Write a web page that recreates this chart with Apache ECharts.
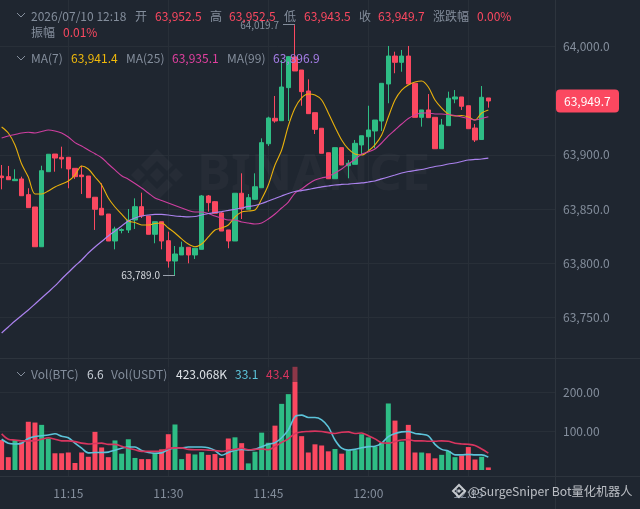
<!DOCTYPE html>
<html><head><meta charset="utf-8">
<style>html,body{margin:0;padding:0;background:#1f2630}#c{width:640px;height:509px}</style>
<script src="https://cdn.jsdelivr.net/npm/echarts@6/dist/echarts.min.js"></script>
</head><body><div id="c"></div>
<script>
const opens=[63880.4,63879.8,63876.1,63877.7,63863.2,63851.8,63815.1,63884.4,63900.7,63897.7,63897.7,63887.5,63881.3,63880.4,63860.8,63850.6,63845.3,63820.4,63830.1,63830.6,63839.8,63852.1,63843.5,63826.6,63838.2,63820.7,63801.9,63807.5,63814.6,63807.5,63812.7,63862.0,63856.7,63846.3,63830.6,63820.4,63864.5,63849.7,63858.9,63869.6,63910.2,63933.7,63931.5,63962.0,63990.3,63978.3,63958.9,63938.9,63924.5,63901.9,63877.9,63906.6,63889.9,63891.2,63909.1,63916.7,63922.0,63931.2,63965.4,63991.2,63985.4,63991.2,63966.0,63934.6,63941.4,63934.6,63905.6,63926.9,63951.5,63953.4,63945.3,63924.7,63914.1,63952.5];
const closes=[63878.9,63877.0,63877.4,63862.2,63851.2,63815.1,63885.3,63900.5,63897.0,63896.1,63886.9,63879.8,63879.8,63860.4,63849.7,63844.4,63820.4,63831.5,63831.0,63839.5,63852.1,63843.5,63826.6,63838.2,63820.4,63801.9,63808.4,63814.6,63807.5,63813.7,63862.0,63855.8,63846.0,63829.6,63820.4,63864.5,63849.9,63860.4,63870.5,63911.2,63934.0,63931.2,63962.6,63990.6,63977.4,63958.3,63938.0,63923.5,63901.4,63877.9,63906.6,63890.6,63892.2,63910.6,63917.6,63922.9,63932.1,63966.0,63991.2,63985.4,63991.2,63965.4,63934.6,63941.4,63934.3,63905.6,63927.5,63952.2,63953.4,63944.8,63924.1,63913.7,63953.1,63949.7];
const lows=[63868.1,63876.7,63876.1,63862.0,63851.2,63815.1,63815.1,63884.4,63884.4,63887.5,63869.1,63877.7,63863.8,63860.4,63830.6,63844.4,63820.4,63812.7,63827.5,63827.8,63831.5,63841.6,63826.6,63818.3,63812.7,63795.8,63789.0,63807.5,63799.8,63803.8,63812.7,63847.5,63846.0,63829.6,63813.7,63820.4,63840.7,63849.7,63858.3,63869.6,63908.1,63929.6,63931.5,63931.2,63977.4,63945.3,63938.0,63919.2,63901.4,63877.9,63877.9,63890.6,63878.3,63891.2,63899.8,63904.4,63906.0,63922.0,63947.6,63975.3,63976.7,63965.4,63934.6,63926.0,63934.3,63905.6,63905.6,63926.9,63947.6,63941.4,63924.1,63911.8,63913.7,63943.5];
const highs=[63890.6,63889.7,63886.6,63879.8,63869.1,63851.8,63889.9,63900.5,63900.7,63907.5,63897.7,63887.5,63889.9,63880.4,63860.8,63873.7,63845.3,63833.6,63832.1,63849.9,63859.8,63865.0,63843.5,63838.2,63838.2,63829.0,63815.8,63819.8,63814.6,63813.7,63862.9,63862.9,63857.3,63847.2,63830.6,63864.5,63882.9,63863.8,63882.9,63915.2,63935.2,63954.3,63987.5,63991.2,64019.7,63978.3,63969.7,63938.9,63924.5,63901.9,63906.6,63906.6,63895.2,63913.7,63917.6,63945.3,63932.1,63966.0,64000.5,63995.2,63996.8,64000.5,63966.0,63941.4,63956.1,63934.6,63933.1,63958.3,63959.8,63953.4,63945.3,63928.4,63963.5,63952.5];
const ma7=[63925.7,63920.1,63909.1,63891.5,63879.5,63863.8,63863.8,63866.6,63870.3,63873.0,63875.8,63881.3,63889.7,63886.9,63879.5,63872.1,63860.1,63851.8,63845.3,63838.9,63837.5,63835.2,63835.2,63836.6,63837.0,63832.4,63827.8,63822.3,63817.6,63815.1,63817.6,63824.1,63830.6,63832.4,63835.2,63842.6,63847.2,63848.1,63849.0,63859.2,63872.1,63890.6,63904.4,63926.6,63943.2,63952.5,63956.1,63955.2,63950.6,63938.6,63925.7,63913.7,63905.4,63900.7,63899.8,63903.5,63909.1,63918.3,63934.9,63950.6,63959.8,63964.5,63967.2,63968.1,63962.6,63950.6,63943.2,63937.7,63935.8,63936.3,63934.9,63932.1,63938.6,63941.4];
const ma25=[63915.5,63917.4,63918.7,63920.1,63920.8,63920.1,63921.5,63922.9,63922.0,63920.1,63916.4,63911.2,63908.1,63904.4,63901.0,63897.3,63891.5,63886.0,63880.7,63877.4,63873.5,63869.3,63864.7,63860.1,63857.8,63855.5,63853.2,63850.9,63848.6,63847.2,63847.2,63845.8,63843.5,63841.6,63839.8,63839.8,63837.9,63837.0,63836.1,63837.0,63840.7,63845.3,63850.9,63856.4,63864.7,63868.4,63873.0,63876.7,63878.6,63880.0,63883.2,63886.9,63891.5,63895.7,63900.7,63902.6,63905.4,63910.9,63917.4,63922.9,63928.4,63933.5,63936.8,63938.6,63938.6,63937.7,63937.7,63937.2,63936.3,63934.9,63933.5,63932.1,63933.5,63935.1];
const ma99=[63735.5,63741.0,63746.5,63751.6,63756.7,63762.2,63767.8,63773.3,63778.9,63785.3,63791.3,63797.3,63802.9,63809.3,63814.9,63819.9,63825.0,63829.6,63834.2,63838.9,63841.6,63843.5,63844.4,63844.9,63844.9,63844.4,63843.5,63843.0,63842.6,63843.0,63844.4,63845.8,63846.7,63847.6,63848.6,63849.7,63850.9,63852.3,63853.2,63855.0,63857.3,63859.6,63862.0,63864.3,63866.1,63867.0,63868.0,63869.3,63870.3,63871.2,63872.1,63872.6,63873.0,63873.5,63874.0,63874.9,63875.8,63877.7,63879.5,63881.3,63883.2,63884.6,63885.5,63886.4,63887.8,63889.2,63890.1,63891.5,63892.4,63893.8,63895.2,63895.7,63896.1,63896.9];
const volumes=[77,33,77,71,124,122,116,81,43,43,45,18,45,34,98,58,33,76,42,79,31,28,28,44,53,92,117,28,42,40,46,39,41,31,81,84,69,17,47,96,70,114,170,195,265,87,45,66,63,48,54,42,51,51,92,84,60,70,171,127,73,116,45,45,43,30,39,49,33,37,59,27,34,6.6];
const volMaFast=[79,69,67,69,81,86,88,90,93,87,83,69,56,44,45,45,46,51,56,59,59,50,45,43,44,53,57,57,59,59,59,57,50,38,45,51,53,51,53,60,66,70,83,103,137,141,135,135,129,111,77,56,51,53,57,60,61,69,86,94,98,99,94,92,88,66,53,49,39,39,40,39,39,33.1];
const volMaSlow=[93,79,77,75,75,75,79,83,79,75,75,73,69,67,68,69,66,66,61,56,52,48,48,48,49,55,57,57,53,52,52,51,50,48,51,53,56,52,53,54,52,60,71,80,94,98,99,100,99,96,94,97,98,94,95,88,80,70,69,73,77,78,75,75,74,74,75,74,69,67,66,63,54,43.4];
const priceTicks=[64000,63900,63850,63800,63750];
const volTicks=[100,200];
const timeTicks=['11:15','11:30','11:45','12:00','12:15'];
const headerRow=[['2026/07/10 12:18',31,'g'],['开',135,'g'],['63,952.5',155,'r'],['高',210,'g'],['63,952.5',229,'r'],['低',284,'g'],['63,943.5',304,'r'],['收',359,'g'],['63,949.7',378,'r'],['涨跌幅',433,'g'],['0.00%',477,'r']];
const ampRow=[['振幅',31,'g'],['0.01%',63,'r']];
const maRow=[['MA(7)',31,'g'],['63,941.4',71,'#f0b90b'],['MA(25)',126,'g'],['63,935.1',172,'#e0409f'],['MA(99)',227,'g'],['63,896.9',273,'#a67ee8']];
const volRow=[['Vol(BTC)',31,'g'],['6.6',87,'#c8ced6'],['Vol(USDT)',111,'g'],['423.068K',176,'#dfe3e8'],['33.1',235,'#5cc3d9'],['43.4',266,'#d8355f']];
const lastPrice=63949.7, peak=64019.7, trough=63789.0;

const BG='#1f2630',GRID='#282f38',AXIS='#2d343d',TXT='#848e9c',UP='#2ebd85',DOWN='#fb4860';
const FONT='"Noto Sans CJK SC","Noto Sans",sans-serif';
const toM=s=>{const p=s.split(':');return (+p[0])*60+(+p[1]);};
const m0=toM('11:05');
const times=opens.map((_,i)=>m0+i);
const pts=a=>a.map((v,i)=>[times[i],v]);
const chart=echarts.init(document.getElementById('c'),null,{renderer:'canvas'});
const xBase={type:'value',min:toM('11:15')-10.245,max:toM('11:15')+73,axisLine:{show:false},
  axisTick:{show:false,customValues:timeTicks.map(toM)},splitLine:{show:true,lineStyle:{color:GRID,width:1}}};
const fmt=v=>{const m=Math.round(v);return String(Math.floor(m/60)).padStart(2,'0')+':'+String(m%60).padStart(2,'0');};
const line=(name,data,color,w,x)=>({name,type:'line',xAxisIndex:x,yAxisIndex:x,data:pts(data),showSymbol:false,smooth:0.3,
  lineStyle:{color,width:w},itemStyle:{color},silent:true,animation:false,z:x?5:4});
const option={animation:false,backgroundColor:BG,
 grid:[{left:0,top:0,width:555,height:358},{left:0,top:359,width:555,height:117}],
 xAxis:[Object.assign({},xBase,{gridIndex:0,axisLabel:{show:false}}),
        Object.assign({},xBase,{gridIndex:1,axisLabel:{show:true,color:TXT,fontSize:12,fontFamily:FONT,margin:11,formatter:fmt,customValues:timeTicks.map(toM),hideOverlap:false}})],
 yAxis:[{type:'value',gridIndex:0,position:'right',min:63712.36,max:64042.94,scale:true,axisLine:{show:false},
   axisTick:{show:false,customValues:priceTicks},splitLine:{show:true,lineStyle:{color:GRID}},
   axisLabel:{color:TXT,fontSize:12,fontFamily:FONT,margin:8,customValues:priceTicks,formatter:v=>Number(v).toLocaleString('en-US',{minimumFractionDigits:1,maximumFractionDigits:1})}},
  {type:'value',gridIndex:1,position:'right',min:-15.4,max:285.3,axisLine:{show:false},
   axisTick:{show:false,customValues:volTicks},splitLine:{show:true,lineStyle:{color:GRID}},
   axisLabel:{color:TXT,fontSize:12,fontFamily:FONT,margin:8,customValues:volTicks,formatter:v=>Number(v).toFixed(2)}}],
 series:[
  {name:'K',type:'candlestick',xAxisIndex:0,yAxisIndex:0,barWidth:5,silent:true,animation:false,z:3,
   encode:{x:0,y:[1,2,3,4]},
   data:opens.map((o,i)=>[times[i],o,closes[i],lows[i],highs[i]]),
   itemStyle:{color:UP,color0:DOWN,borderColor:UP,borderColor0:DOWN,borderColorDoji:UP,borderWidth:1}},
  line('MA7',ma7,'#e8b00c',1.1,0),line('MA25',ma25,'#cf3fa0',1.1,0),line('MA99',ma99,'#ab82ee',1.2,0),
  {name:'Vol',type:'bar',xAxisIndex:1,yAxisIndex:1,barWidth:5,silent:true,animation:false,z:3,
   data:volumes.map((v,i)=>({value:[times[i],v],itemStyle:{color:closes[i]>=opens[i]?UP:DOWN}}))},
  line('VolFast',volMaFast,'#5cc3d9',1.6,1),line('VolSlow',volMaSlow,'#d8355f',1.6,1)
 ]};
chart.setOption(option);

function rowText(row,y){return row.map(r=>({type:'text',x:r[1],y,z:100,silent:true,style:{text:r[0],fontSize:12,fontFamily:FONT,verticalAlign:'middle',
  fill:r[2]==='g'?TXT:r[2]==='r'?DOWN:r[2]}}));}
const chev=(y)=>({type:'polyline',z:100,silent:true,shape:{points:[[17,y-2],[21,y+2],[25,y-2]]},style:{stroke:TXT,lineWidth:1,fill:null}});
const wm='rgba(255,255,255,0.032)';
const poly=(pp)=>({type:'polygon',z:1,silent:true,shape:{points:pp.map(p=>[157+p[0],175+p[1]])},style:{fill:wm}});
const P=(t,v)=>chart.convertToPixel({xAxisIndex:0,yAxisIndex:0},[t,v]);
const pk=P(times[44],peak), tr=P(times[26],trough), lp=P(times[73],lastPrice);
const seg=(x1,x2,y,c)=>({type:'line',z:50,silent:true,shape:{x1,y1:y,x2,y2:y},style:{stroke:c,lineWidth:1}});
const graphic=[
 poly([[0,-26],[16,-10],[10,-4],[0,-14],[-10,-4],[-16,-10]]),
 poly([[0,26],[16,10],[10,4],[0,14],[-10,4],[-16,10]]),
 poly([[0,-7],[7,0],[0,7],[-7,0]]),
 poly([[-19,-7],[-12,0],[-19,7],[-26,0]]),
 poly([[19,-7],[26,0],[19,7],[12,0]]),
 {type:'text',x:197,y:175,z:1,silent:true,style:{text:'BINANCE',fontSize:51,fontWeight:'bold',fontFamily:'"Noto Sans",sans-serif',fill:wm,verticalAlign:'middle'}},
 {type:'line',z:10,silent:true,shape:{x1:555.5,y1:0,x2:555.5,y2:509},style:{stroke:AXIS,lineWidth:1}},
 {type:'line',z:10,silent:true,shape:{x1:0,y1:358.5,x2:640,y2:358.5},style:{stroke:AXIS,lineWidth:1}},
 {type:'line',z:10,silent:true,shape:{x1:0,y1:476.5,x2:640,y2:476.5},style:{stroke:AXIS,lineWidth:1}},
 {type:'rect',z:60,silent:true,shape:{x:10,y:367,width:290,height:15},style:{fill:'rgba(31,38,48,0.5)'}},
 ...rowText(headerRow,16),...rowText(ampRow,32),...rowText(maRow,58),...rowText(volRow,374),
 chev(15),chev(58),chev(374),
 seg(283,pk[0],Math.round(pk[1])-0.5,'#848e9c'),
 {type:'text',x:279,y:pk[1],z:50,silent:true,style:{text:'64,019.7',fontSize:10,fontFamily:FONT,fill:TXT,align:'right',verticalAlign:'middle'}},
 seg(163,tr[0],Math.round(tr[1])+0.5,'#9aa2ad'),
 {type:'text',x:160,y:tr[1],z:50,silent:true,style:{text:'63,789.0',fontSize:10,fontFamily:FONT,fill:'#d5d9de',align:'right',verticalAlign:'middle'}},
 {type:'rect',z:60,silent:true,shape:{x:556,y:lp[1]-11.5,width:63,height:23,r:4},style:{fill:DOWN}},
 {type:'text',x:564,y:lp[1],z:61,silent:true,style:{text:'63,949.7',fontSize:12,fontFamily:FONT,fill:'#ffffff',verticalAlign:'middle'}},
 {type:'text',x:468,y:491,z:100,silent:true,style:{text:'@SurgeSniper Bot量化机器人',fontSize:12.2,fontFamily:FONT,fill:'rgba(225,228,232,0.8)',verticalAlign:'middle'}},
 {type:'polygon',z:100,silent:true,shape:{points:[[459,485],[465,491],[459,497],[453,491]]},style:{fill:null,stroke:'rgba(225,228,232,0.85)',lineWidth:2}},
 {type:'polygon',z:100,silent:true,shape:{points:[[459,489],[461,491],[459,493],[457,491]]},style:{fill:'rgba(225,228,232,0.85)'}}
];
chart.setOption({graphic});
</script></body></html>
